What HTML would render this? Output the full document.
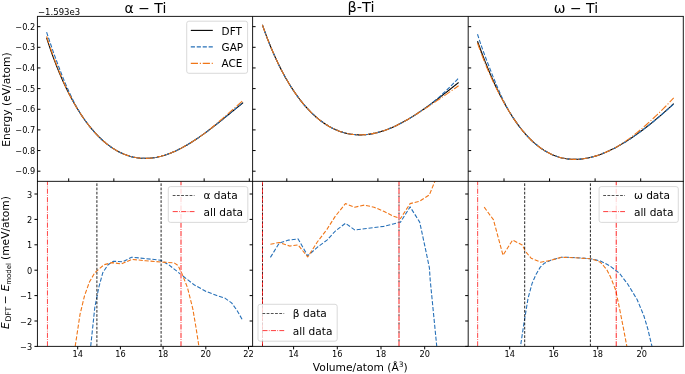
<!DOCTYPE html>
<html><head><meta charset="utf-8"><title>Ti EOS</title>
<style>html,body{margin:0;padding:0;background:#fff}svg{display:block}</style>
</head><body>
<svg width="685" height="374" viewBox="0 0 685 374" font-family='"DejaVu Sans","Liberation Sans",sans-serif'>
<rect width="685" height="374" fill="#fff"/>
<clipPath id="ct0"><rect x="37.45" y="16.4" width="215.1" height="164.9"/></clipPath>
<clipPath id="cb0"><rect x="37.45" y="181.35" width="215.1" height="165.0"/></clipPath>
<clipPath id="ct1"><rect x="252.6" y="16.4" width="215.6" height="164.9"/></clipPath>
<clipPath id="cb1"><rect x="252.6" y="181.35" width="215.6" height="165.0"/></clipPath>
<clipPath id="ct2"><rect x="468.2" y="16.4" width="215.1" height="164.9"/></clipPath>
<clipPath id="cb2"><rect x="468.2" y="181.35" width="215.1" height="165.0"/></clipPath>
<g clip-path="url(#ct0)" fill="none" stroke-width="1.1">
<path d="M46.60,37.75 L48.01,42.15 L49.43,46.40 L50.84,50.53 L52.25,54.52 L53.67,58.40 L55.08,62.16 L56.50,65.81 L57.91,69.35 L59.32,72.78 L60.74,76.11 L62.15,79.35 L63.56,82.49 L64.98,85.53 L66.39,88.49 L67.81,91.37 L69.22,94.16 L70.63,96.87 L72.05,99.50 L73.46,102.05 L74.87,104.53 L76.29,106.94 L77.70,109.28 L79.11,111.55 L80.53,113.75 L81.94,115.88 L83.36,117.95 L84.77,119.96 L86.18,121.90 L87.60,123.78 L89.01,125.61 L90.42,127.37 L91.84,129.08 L93.25,130.73 L94.66,132.33 L96.08,133.87 L97.49,135.36 L98.91,136.79 L100.32,138.18 L101.73,139.51 L103.15,140.79 L104.56,142.02 L105.97,143.20 L107.39,144.33 L108.80,145.42 L110.22,146.45 L111.63,147.44 L113.04,148.38 L114.46,149.28 L115.87,150.13 L117.28,150.94 L118.70,151.70 L120.11,152.42 L121.52,153.09 L122.94,153.73 L124.35,154.32 L125.77,154.86 L127.18,155.37 L128.59,155.83 L130.01,156.26 L131.42,156.64 L132.83,156.99 L134.25,157.29 L135.66,157.56 L137.07,157.79 L138.49,157.97 L139.90,158.13 L141.32,158.24 L142.73,158.32 L144.14,158.36 L145.56,158.37 L146.97,158.34 L148.38,158.28 L149.80,158.18 L151.21,158.05 L152.63,157.89 L154.04,157.69 L155.45,157.46 L156.87,157.20 L158.28,156.90 L159.69,156.58 L161.11,156.23 L162.52,155.84 L163.93,155.43 L165.35,154.99 L166.76,154.52 L168.18,154.02 L169.59,153.49 L171.00,152.94 L172.42,152.36 L173.83,151.76 L175.24,151.13 L176.66,150.47 L178.07,149.79 L179.48,149.09 L180.90,148.37 L182.31,147.62 L183.73,146.85 L185.14,146.06 L186.55,145.25 L187.97,144.42 L189.38,143.57 L190.79,142.70 L192.21,141.81 L193.62,140.90 L195.04,139.98 L196.45,139.04 L197.86,138.08 L199.28,137.11 L200.69,136.13 L202.10,135.13 L203.52,134.11 L204.93,133.08 L206.34,132.04 L207.76,130.99 L209.17,129.93 L210.59,128.86 L212.00,127.77 L213.41,126.68 L214.83,125.58 L216.24,124.47 L217.65,123.35 L219.07,122.23 L220.48,121.10 L221.89,119.96 L223.31,118.82 L224.72,117.68 L226.14,116.53 L227.55,115.37 L228.96,114.22 L230.38,113.06 L231.79,111.90 L233.20,110.74 L234.62,109.58 L236.03,108.43 L237.45,107.27 L238.86,106.11 L240.27,104.96 L241.69,103.80 L243.10,102.66" stroke="#000"/>
<path d="M46.60,32.15 L48.01,36.41 L49.43,40.61 L50.84,44.75 L52.25,48.87 L53.67,52.91 L55.08,56.84 L56.50,60.71 L57.91,64.51 L59.32,68.30 L60.74,72.04 L62.15,75.66 L63.56,79.16 L64.98,82.56 L66.39,85.87 L67.81,89.09 L69.22,92.23 L70.63,95.27 L72.05,98.20 L73.46,101.03 L74.87,103.77 L76.29,106.38 L77.70,108.91 L79.11,111.36 L80.53,113.69 L81.94,115.88 L83.36,117.95 L84.77,119.96 L86.18,121.90 L87.60,123.78 L89.01,125.61 L90.42,127.37 L91.84,129.08 L93.25,130.73 L94.66,132.33 L96.08,133.87 L97.49,135.36 L98.91,136.79 L100.32,138.18 L101.73,139.51 L103.15,140.79 L104.56,142.02 L105.97,143.20 L107.39,144.33 L108.80,145.42 L110.22,146.45 L111.63,147.44 L113.04,148.38 L114.46,149.28 L115.87,150.13 L117.28,150.94 L118.70,151.70 L120.11,152.42 L121.52,153.09 L122.94,153.73 L124.35,154.32 L125.77,154.86 L127.18,155.37 L128.59,155.83 L130.01,156.26 L131.42,156.64 L132.83,156.99 L134.25,157.29 L135.66,157.56 L137.07,157.79 L138.49,157.97 L139.90,158.13 L141.32,158.24 L142.73,158.32 L144.14,158.36 L145.56,158.37 L146.97,158.34 L148.38,158.28 L149.80,158.18 L151.21,158.05 L152.63,157.89 L154.04,157.69 L155.45,157.46 L156.87,157.20 L158.28,156.90 L159.69,156.58 L161.11,156.23 L162.52,155.84 L163.93,155.43 L165.35,154.99 L166.76,154.52 L168.18,154.02 L169.59,153.49 L171.00,152.94 L172.42,152.36 L173.83,151.76 L175.24,151.13 L176.66,150.47 L178.07,149.79 L179.48,149.09 L180.90,148.37 L182.31,147.62 L183.73,146.85 L185.14,146.06 L186.55,145.25 L187.97,144.42 L189.38,143.57 L190.79,142.70 L192.21,141.81 L193.62,140.90 L195.04,139.98 L196.45,139.04 L197.86,138.08 L199.28,137.11 L200.69,136.13 L202.10,135.12 L203.52,134.11 L204.93,133.08 L206.34,132.03 L207.76,130.97 L209.17,129.90 L210.59,128.82 L212.00,127.73 L213.41,126.62 L214.83,125.51 L216.24,124.39 L217.65,123.26 L219.07,122.12 L220.48,120.98 L221.89,119.83 L223.31,118.67 L224.72,117.51 L226.14,116.34 L227.55,115.17 L228.96,114.00 L230.38,112.82 L231.79,111.65 L233.20,110.47 L234.62,109.29 L236.03,108.12 L237.45,106.94 L238.86,105.77 L240.27,104.59 L241.69,103.43 L243.10,102.26" stroke="#2670b8" stroke-dasharray="4.15 1.8"/>
<path d="M46.60,36.45 L48.01,40.85 L49.43,45.11 L50.84,49.25 L52.25,53.27 L53.67,57.17 L55.08,60.96 L56.50,64.67 L57.91,68.30 L59.32,71.85 L60.74,75.31 L62.15,78.66 L63.56,81.93 L64.98,85.15 L66.39,88.27 L67.81,91.27 L69.22,94.15 L70.63,96.87 L72.05,99.50 L73.46,102.05 L74.87,104.53 L76.29,106.94 L77.70,109.28 L79.11,111.55 L80.53,113.75 L81.94,115.88 L83.36,117.95 L84.77,119.96 L86.18,121.90 L87.60,123.78 L89.01,125.61 L90.42,127.37 L91.84,129.08 L93.25,130.73 L94.66,132.33 L96.08,133.87 L97.49,135.36 L98.91,136.79 L100.32,138.18 L101.73,139.51 L103.15,140.79 L104.56,142.02 L105.97,143.20 L107.39,144.33 L108.80,145.42 L110.22,146.45 L111.63,147.44 L113.04,148.38 L114.46,149.28 L115.87,150.13 L117.28,150.94 L118.70,151.70 L120.11,152.42 L121.52,153.09 L122.94,153.73 L124.35,154.32 L125.77,154.86 L127.18,155.37 L128.59,155.83 L130.01,156.26 L131.42,156.64 L132.83,156.99 L134.25,157.29 L135.66,157.56 L137.07,157.79 L138.49,157.97 L139.90,158.13 L141.32,158.24 L142.73,158.32 L144.14,158.36 L145.56,158.37 L146.97,158.34 L148.38,158.28 L149.80,158.18 L151.21,158.05 L152.63,157.89 L154.04,157.69 L155.45,157.46 L156.87,157.20 L158.28,156.90 L159.69,156.58 L161.11,156.23 L162.52,155.84 L163.93,155.43 L165.35,154.99 L166.76,154.52 L168.18,154.02 L169.59,153.49 L171.00,152.94 L172.42,152.36 L173.83,151.76 L175.24,151.13 L176.66,150.47 L178.07,149.79 L179.48,149.09 L180.90,148.37 L182.31,147.62 L183.73,146.85 L185.14,146.06 L186.55,145.25 L187.97,144.42 L189.38,143.57 L190.79,142.70 L192.21,141.81 L193.62,140.90 L195.04,139.98 L196.45,139.04 L197.86,138.08 L199.28,137.11 L200.69,136.13 L202.10,135.13 L203.52,134.11 L204.93,133.08 L206.34,132.03 L207.76,130.93 L209.17,129.80 L210.59,128.64 L212.00,127.46 L213.41,126.28 L214.83,125.09 L216.24,123.90 L217.65,122.70 L219.07,121.49 L220.48,120.28 L221.89,119.05 L223.31,117.83 L224.72,116.59 L226.14,115.36 L227.55,114.12 L228.96,112.89 L230.38,111.65 L231.79,110.40 L233.20,109.16 L234.62,107.91 L236.03,106.66 L237.45,105.40 L238.86,104.15 L240.27,102.89 L241.69,101.64 L243.10,100.39" stroke="#f07618" stroke-dasharray="7.2 1.8 1.13 1.8"/>
</g>
<g clip-path="url(#ct1)" fill="none" stroke-width="1.1">
<path d="M262.40,24.91 L263.81,28.92 L265.22,32.80 L266.63,36.57 L268.05,40.23 L269.46,43.78 L270.87,47.23 L272.28,50.57 L273.69,53.82 L275.10,56.98 L276.52,60.04 L277.93,63.02 L279.34,65.91 L280.75,68.71 L282.16,71.44 L283.57,74.08 L284.98,76.65 L286.40,79.15 L287.81,81.57 L289.22,83.92 L290.63,86.20 L292.04,88.41 L293.45,90.56 L294.86,92.64 L296.28,94.66 L297.69,96.62 L299.10,98.52 L300.51,100.36 L301.92,102.14 L303.33,103.86 L304.75,105.53 L306.16,107.14 L307.57,108.70 L308.98,110.21 L310.39,111.66 L311.80,113.06 L313.21,114.41 L314.63,115.71 L316.04,116.97 L317.45,118.17 L318.86,119.33 L320.27,120.44 L321.68,121.50 L323.09,122.52 L324.51,123.50 L325.92,124.43 L327.33,125.31 L328.74,126.16 L330.15,126.96 L331.56,127.72 L332.98,128.43 L334.39,129.11 L335.80,129.75 L337.21,130.34 L338.62,130.90 L340.03,131.42 L341.44,131.90 L342.86,132.34 L344.27,132.74 L345.68,133.11 L347.09,133.44 L348.50,133.74 L349.91,134.00 L351.33,134.22 L352.74,134.41 L354.15,134.56 L355.56,134.69 L356.97,134.77 L358.38,134.83 L359.79,134.85 L361.21,134.84 L362.62,134.80 L364.03,134.73 L365.44,134.62 L366.85,134.49 L368.26,134.33 L369.67,134.13 L371.09,133.91 L372.50,133.66 L373.91,133.38 L375.32,133.08 L376.73,132.74 L378.14,132.38 L379.56,132.00 L380.97,131.59 L382.38,131.15 L383.79,130.68 L385.20,130.20 L386.61,129.69 L388.02,129.15 L389.44,128.59 L390.85,128.01 L392.26,127.41 L393.67,126.78 L395.08,126.14 L396.49,125.47 L397.91,124.78 L399.32,124.07 L400.73,123.35 L402.14,122.60 L403.55,121.84 L404.96,121.05 L406.37,120.25 L407.79,119.44 L409.20,118.60 L410.61,117.75 L412.02,116.88 L413.43,116.00 L414.84,115.10 L416.25,114.19 L417.67,113.27 L419.08,112.33 L420.49,111.38 L421.90,110.42 L423.31,109.44 L424.72,108.45 L426.14,107.45 L427.55,106.45 L428.96,105.43 L430.37,104.40 L431.78,103.36 L433.19,102.31 L434.60,101.26 L436.02,100.20 L437.43,99.13 L438.84,98.05 L440.25,96.97 L441.66,95.88 L443.07,94.78 L444.48,93.68 L445.90,92.58 L447.31,91.47 L448.72,90.36 L450.13,89.25 L451.54,88.13 L452.95,87.01 L454.37,85.89 L455.78,84.76 L457.19,83.64 L458.60,82.52" stroke="#000"/>
<path d="M262.40,24.91 L263.81,28.92 L265.22,32.80 L266.63,36.57 L268.05,40.23 L269.46,43.78 L270.87,47.23 L272.28,50.57 L273.69,53.82 L275.10,56.98 L276.52,60.04 L277.93,63.02 L279.34,65.91 L280.75,68.71 L282.16,71.44 L283.57,74.08 L284.98,76.65 L286.40,79.15 L287.81,81.57 L289.22,83.92 L290.63,86.20 L292.04,88.41 L293.45,90.56 L294.86,92.64 L296.28,94.66 L297.69,96.62 L299.10,98.52 L300.51,100.36 L301.92,102.14 L303.33,103.86 L304.75,105.53 L306.16,107.14 L307.57,108.70 L308.98,110.21 L310.39,111.66 L311.80,113.06 L313.21,114.41 L314.63,115.71 L316.04,116.97 L317.45,118.17 L318.86,119.33 L320.27,120.44 L321.68,121.50 L323.09,122.52 L324.51,123.50 L325.92,124.43 L327.33,125.31 L328.74,126.16 L330.15,126.96 L331.56,127.72 L332.98,128.43 L334.39,129.11 L335.80,129.75 L337.21,130.34 L338.62,130.90 L340.03,131.42 L341.44,131.90 L342.86,132.34 L344.27,132.74 L345.68,133.11 L347.09,133.44 L348.50,133.74 L349.91,134.00 L351.33,134.22 L352.74,134.41 L354.15,134.56 L355.56,134.69 L356.97,134.77 L358.38,134.83 L359.79,134.85 L361.21,134.84 L362.62,134.80 L364.03,134.73 L365.44,134.62 L366.85,134.49 L368.26,134.33 L369.67,134.13 L371.09,133.91 L372.50,133.66 L373.91,133.38 L375.32,133.08 L376.73,132.74 L378.14,132.38 L379.56,132.00 L380.97,131.59 L382.38,131.15 L383.79,130.68 L385.20,130.20 L386.61,129.69 L388.02,129.15 L389.44,128.59 L390.85,128.01 L392.26,127.41 L393.67,126.78 L395.08,126.14 L396.49,125.47 L397.91,124.78 L399.32,124.07 L400.73,123.35 L402.14,122.60 L403.55,121.84 L404.96,121.05 L406.37,120.25 L407.79,119.44 L409.20,118.60 L410.61,117.75 L412.02,116.88 L413.43,116.00 L414.84,115.10 L416.25,114.19 L417.67,113.27 L419.08,112.33 L420.49,111.38 L421.90,110.42 L423.31,109.44 L424.72,108.45 L426.14,107.45 L427.55,106.45 L428.96,105.43 L430.37,104.40 L431.78,103.31 L433.19,102.17 L434.60,100.99 L436.02,99.79 L437.43,98.59 L438.84,97.36 L440.25,96.10 L441.66,94.82 L443.07,93.52 L444.48,92.21 L445.90,90.87 L447.31,89.50 L448.72,88.12 L450.13,86.72 L451.54,85.32 L452.95,83.90 L454.37,82.48 L455.78,81.04 L457.19,79.60 L458.60,78.14" stroke="#2670b8" stroke-dasharray="4.15 1.8"/>
<path d="M262.40,24.91 L263.81,28.92 L265.22,32.80 L266.63,36.57 L268.05,40.23 L269.46,43.78 L270.87,47.23 L272.28,50.57 L273.69,53.82 L275.10,56.98 L276.52,60.04 L277.93,63.02 L279.34,65.91 L280.75,68.71 L282.16,71.44 L283.57,74.08 L284.98,76.65 L286.40,79.15 L287.81,81.57 L289.22,83.92 L290.63,86.20 L292.04,88.41 L293.45,90.56 L294.86,92.64 L296.28,94.66 L297.69,96.62 L299.10,98.52 L300.51,100.36 L301.92,102.14 L303.33,103.86 L304.75,105.53 L306.16,107.14 L307.57,108.70 L308.98,110.21 L310.39,111.66 L311.80,113.06 L313.21,114.41 L314.63,115.71 L316.04,116.97 L317.45,118.17 L318.86,119.33 L320.27,120.44 L321.68,121.50 L323.09,122.52 L324.51,123.50 L325.92,124.43 L327.33,125.31 L328.74,126.16 L330.15,126.96 L331.56,127.72 L332.98,128.43 L334.39,129.11 L335.80,129.75 L337.21,130.34 L338.62,130.90 L340.03,131.42 L341.44,131.90 L342.86,132.34 L344.27,132.74 L345.68,133.11 L347.09,133.44 L348.50,133.74 L349.91,134.00 L351.33,134.22 L352.74,134.41 L354.15,134.56 L355.56,134.69 L356.97,134.77 L358.38,134.83 L359.79,134.85 L361.21,134.84 L362.62,134.80 L364.03,134.73 L365.44,134.62 L366.85,134.49 L368.26,134.33 L369.67,134.13 L371.09,133.91 L372.50,133.66 L373.91,133.38 L375.32,133.08 L376.73,132.74 L378.14,132.38 L379.56,132.00 L380.97,131.59 L382.38,131.15 L383.79,130.68 L385.20,130.20 L386.61,129.69 L388.02,129.15 L389.44,128.59 L390.85,128.01 L392.26,127.41 L393.67,126.78 L395.08,126.14 L396.49,125.47 L397.91,124.78 L399.32,124.07 L400.73,123.35 L402.14,122.60 L403.55,121.84 L404.96,121.05 L406.37,120.25 L407.79,119.44 L409.20,118.60 L410.61,117.75 L412.02,116.88 L413.43,116.00 L414.84,115.10 L416.25,114.20 L417.67,113.30 L419.08,112.41 L420.49,111.52 L421.90,110.62 L423.31,109.72 L424.72,108.82 L426.14,107.91 L427.55,106.99 L428.96,106.06 L430.37,105.12 L431.78,104.18 L433.19,103.24 L434.60,102.29 L436.02,101.35 L437.43,100.40 L438.84,99.45 L440.25,98.49 L441.66,97.52 L443.07,96.55 L444.48,95.58 L445.90,94.60 L447.31,93.62 L448.72,92.64 L450.13,91.66 L451.54,90.67 L452.95,89.68 L454.37,88.69 L455.78,87.69 L457.19,86.70 L458.60,85.71" stroke="#f07618" stroke-dasharray="7.2 1.8 1.13 1.8"/>
</g>
<g clip-path="url(#ct2)" fill="none" stroke-width="1.1">
<path d="M477.50,41.22 L478.91,45.15 L480.32,49.00 L481.73,52.78 L483.15,56.49 L484.56,60.12 L485.97,63.67 L487.38,67.15 L488.79,70.55 L490.20,73.88 L491.62,77.13 L493.03,80.31 L494.44,83.41 L495.85,86.44 L497.26,89.40 L498.67,92.28 L500.08,95.09 L501.50,97.83 L502.91,100.50 L504.32,103.10 L505.73,105.63 L507.14,108.09 L508.55,110.48 L509.96,112.80 L511.38,115.06 L512.79,117.25 L514.20,119.37 L515.61,121.43 L517.02,123.43 L518.43,125.36 L519.85,127.23 L521.26,129.03 L522.67,130.78 L524.08,132.46 L525.49,134.09 L526.90,135.65 L528.31,137.16 L529.73,138.61 L531.14,140.01 L532.55,141.34 L533.96,142.63 L535.37,143.86 L536.78,145.03 L538.19,146.16 L539.61,147.23 L541.02,148.25 L542.43,149.22 L543.84,150.14 L545.25,151.01 L546.66,151.83 L548.08,152.61 L549.49,153.34 L550.90,154.03 L552.31,154.67 L553.72,155.26 L555.13,155.81 L556.54,156.32 L557.96,156.79 L559.37,157.22 L560.78,157.60 L562.19,157.95 L563.60,158.25 L565.01,158.52 L566.43,158.75 L567.84,158.94 L569.25,159.09 L570.66,159.21 L572.07,159.30 L573.48,159.35 L574.89,159.36 L576.31,159.34 L577.72,159.29 L579.13,159.21 L580.54,159.09 L581.95,158.94 L583.36,158.77 L584.77,158.56 L586.19,158.32 L587.60,158.06 L589.01,157.76 L590.42,157.44 L591.83,157.09 L593.24,156.71 L594.66,156.31 L596.07,155.88 L597.48,155.43 L598.89,154.95 L600.30,154.44 L601.71,153.91 L603.12,153.36 L604.54,152.79 L605.95,152.19 L607.36,151.57 L608.77,150.93 L610.18,150.27 L611.59,149.58 L613.01,148.88 L614.42,148.16 L615.83,147.41 L617.24,146.65 L618.65,145.86 L620.06,145.06 L621.47,144.24 L622.89,143.40 L624.30,142.55 L625.71,141.68 L627.12,140.79 L628.53,139.88 L629.94,138.96 L631.35,138.02 L632.77,137.06 L634.18,136.09 L635.59,135.11 L637.00,134.11 L638.41,133.09 L639.82,132.07 L641.24,131.02 L642.65,129.97 L644.06,128.90 L645.47,127.81 L646.88,126.72 L648.29,125.61 L649.70,124.49 L651.12,123.35 L652.53,122.21 L653.94,121.05 L655.35,119.88 L656.76,118.70 L658.17,117.51 L659.58,116.31 L661.00,115.09 L662.41,113.87 L663.82,112.64 L665.23,111.39 L666.64,110.14 L668.05,108.87 L669.47,107.60 L670.88,106.32 L672.29,105.02 L673.70,103.72" stroke="#000"/>
<path d="M477.50,34.22 L478.91,38.60 L480.32,42.85 L481.73,46.94 L483.15,50.89 L484.56,54.75 L485.97,58.51 L487.38,62.19 L488.79,65.81 L490.20,69.43 L491.62,73.03 L493.03,76.58 L494.44,80.06 L495.85,83.47 L497.26,86.82 L498.67,90.07 L500.08,93.26 L501.50,96.38 L502.91,99.40 L504.32,102.29 L505.73,105.03 L507.14,107.69 L508.55,110.26 L509.96,112.72 L511.38,115.05 L512.79,117.25 L514.20,119.37 L515.61,121.43 L517.02,123.43 L518.43,125.36 L519.85,127.23 L521.26,129.03 L522.67,130.78 L524.08,132.46 L525.49,134.09 L526.90,135.65 L528.31,137.16 L529.73,138.61 L531.14,140.01 L532.55,141.34 L533.96,142.63 L535.37,143.86 L536.78,145.03 L538.19,146.16 L539.61,147.23 L541.02,148.25 L542.43,149.22 L543.84,150.14 L545.25,151.01 L546.66,151.83 L548.08,152.61 L549.49,153.34 L550.90,154.03 L552.31,154.67 L553.72,155.26 L555.13,155.81 L556.54,156.32 L557.96,156.79 L559.37,157.22 L560.78,157.60 L562.19,157.95 L563.60,158.25 L565.01,158.52 L566.43,158.75 L567.84,158.94 L569.25,159.09 L570.66,159.21 L572.07,159.30 L573.48,159.35 L574.89,159.36 L576.31,159.34 L577.72,159.29 L579.13,159.21 L580.54,159.09 L581.95,158.94 L583.36,158.77 L584.77,158.56 L586.19,158.32 L587.60,158.06 L589.01,157.76 L590.42,157.44 L591.83,157.09 L593.24,156.71 L594.66,156.31 L596.07,155.88 L597.48,155.43 L598.89,154.95 L600.30,154.44 L601.71,153.91 L603.12,153.36 L604.54,152.79 L605.95,152.19 L607.36,151.57 L608.77,150.93 L610.18,150.27 L611.59,149.58 L613.01,148.88 L614.42,148.16 L615.83,147.41 L617.24,146.65 L618.65,145.86 L620.06,145.06 L621.47,144.24 L622.89,143.40 L624.30,142.55 L625.71,141.68 L627.12,140.79 L628.53,139.88 L629.94,138.96 L631.35,138.02 L632.77,137.06 L634.18,136.09 L635.59,135.11 L637.00,134.11 L638.41,133.09 L639.82,132.07 L641.24,131.02 L642.65,129.97 L644.06,128.90 L645.47,127.83 L646.88,126.74 L648.29,125.64 L649.70,124.53 L651.12,123.40 L652.53,122.27 L653.94,121.12 L655.35,119.97 L656.76,118.80 L658.17,117.63 L659.58,116.44 L661.00,115.24 L662.41,114.04 L663.82,112.82 L665.23,111.59 L666.64,110.35 L668.05,109.11 L669.47,107.85 L670.88,106.58 L672.29,105.31 L673.70,104.02" stroke="#2670b8" stroke-dasharray="4.15 1.8"/>
<path d="M477.50,43.02 L478.91,46.95 L480.32,50.80 L481.73,54.58 L483.15,58.29 L484.56,61.92 L485.97,65.45 L487.38,68.84 L488.79,72.10 L490.20,75.27 L491.62,78.37 L493.03,81.40 L494.44,84.33 L495.85,87.18 L497.26,89.96 L498.67,92.69 L500.08,95.39 L501.50,98.03 L502.91,100.61 L504.32,103.14 L505.73,105.63 L507.14,108.09 L508.55,110.48 L509.96,112.80 L511.38,115.06 L512.79,117.25 L514.20,119.37 L515.61,121.43 L517.02,123.43 L518.43,125.36 L519.85,127.23 L521.26,129.03 L522.67,130.78 L524.08,132.46 L525.49,134.09 L526.90,135.65 L528.31,137.16 L529.73,138.61 L531.14,140.01 L532.55,141.34 L533.96,142.63 L535.37,143.86 L536.78,145.03 L538.19,146.16 L539.61,147.23 L541.02,148.25 L542.43,149.22 L543.84,150.14 L545.25,151.01 L546.66,151.83 L548.08,152.61 L549.49,153.34 L550.90,154.03 L552.31,154.67 L553.72,155.26 L555.13,155.81 L556.54,156.32 L557.96,156.79 L559.37,157.22 L560.78,157.60 L562.19,157.95 L563.60,158.25 L565.01,158.52 L566.43,158.75 L567.84,158.94 L569.25,159.09 L570.66,159.21 L572.07,159.30 L573.48,159.35 L574.89,159.36 L576.31,159.34 L577.72,159.29 L579.13,159.21 L580.54,159.09 L581.95,158.94 L583.36,158.77 L584.77,158.56 L586.19,158.32 L587.60,158.06 L589.01,157.76 L590.42,157.44 L591.83,157.09 L593.24,156.71 L594.66,156.31 L596.07,155.88 L597.48,155.43 L598.89,154.95 L600.30,154.44 L601.71,153.91 L603.12,153.36 L604.54,152.79 L605.95,152.19 L607.36,151.57 L608.77,150.93 L610.18,150.27 L611.59,149.58 L613.01,148.88 L614.42,148.16 L615.83,147.40 L617.24,146.61 L618.65,145.77 L620.06,144.89 L621.47,143.98 L622.89,143.04 L624.30,142.09 L625.71,141.13 L627.12,140.14 L628.53,139.13 L629.94,138.09 L631.35,137.03 L632.77,135.95 L634.18,134.85 L635.59,133.73 L637.00,132.60 L638.41,131.45 L639.82,130.28 L641.24,129.10 L642.65,127.91 L644.06,126.69 L645.47,125.47 L646.88,124.22 L648.29,122.96 L649.70,121.68 L651.12,120.39 L652.53,119.09 L653.94,117.77 L655.35,116.44 L656.76,115.10 L658.17,113.74 L659.58,112.37 L661.00,110.98 L662.41,109.58 L663.82,108.17 L665.23,106.75 L666.64,105.32 L668.05,103.87 L669.47,102.41 L670.88,100.94 L672.29,99.46 L673.70,97.96" stroke="#f07618" stroke-dasharray="7.2 1.8 1.13 1.8"/>
</g>
<g clip-path="url(#cb0)" fill="none">
<path d="M90.70,346.30 L94.80,307.50 L98.80,287.40 L102.80,272.70 L108.10,264.70 L113.50,261.20 L122.80,261.80 L131.70,257.20 L145.60,258.60 L160.70,260.20 L168.70,264.70 L182.10,275.40 L194.10,284.80 L206.10,291.40 L216.80,295.50 L224.90,298.10 L231.60,302.90 L236.90,310.20 L242.20,319.50" stroke="#2670b8" stroke-width="1.1" stroke-dasharray="4.15 1.8" stroke-linejoin="round"/>
<path d="M75.20,346.30 L80.05,314.20 L84.60,295.50 L89.40,282.10 L94.80,272.70 L104.10,264.70 L112.10,262.60 L121.50,263.90 L131.70,259.40 L145.60,260.70 L160.70,262.00 L174.10,262.80 L178.10,265.50 L182.10,274.10 L187.40,287.40 L192.80,308.80 L196.00,327.50 L198.70,345.00 L199.30,350.00" stroke="#f07618" stroke-width="1.1" stroke-dasharray="4.15 1.8" stroke-linejoin="round"/>
<path d="M96.9,346.4 V181.35" stroke="#000" stroke-opacity="0.85" stroke-width="1.0" stroke-dasharray="2.7 1.52"/>
<path d="M161.1,346.4 V181.35" stroke="#000" stroke-opacity="0.85" stroke-width="1.0" stroke-dasharray="2.7 1.52"/>
<path d="M47.45,346.4 V181.35" stroke="#ff0000" stroke-opacity="0.72" stroke-width="1.0" stroke-dasharray="5.12 1.28 0.8 1.28"/>
<path d="M181.0,346.4 V181.35" stroke="#ff8c8c" stroke-width="1.9" stroke-dasharray="5.12 1.28 0.8 1.28"/>
</g>
<g clip-path="url(#cb1)" fill="none">
<path d="M270.40,257.40 L279.30,243.00 L288.50,240.10 L298.10,238.90 L307.70,255.80 L317.30,247.30 L327.00,240.10 L335.40,231.00 L345.50,223.30 L354.70,229.90 L364.40,228.80 L374.05,227.60 L383.70,226.40 L393.30,224.00 L400.50,222.10 L410.10,206.90 L419.70,222.10 L424.60,244.90 L429.40,267.80 L430.20,280.00 L436.70,345.80 L437.20,350.00" stroke="#2670b8" stroke-width="1.1" stroke-dasharray="4.15 1.8" stroke-linejoin="round"/>
<path d="M270.40,244.20 L279.30,242.50 L289.70,246.10 L298.10,244.90 L307.70,257.00 L317.30,242.00 L327.00,229.30 L335.40,216.10 L345.50,203.60 L354.70,207.20 L364.40,205.10 L374.05,207.20 L383.70,211.30 L393.30,216.10 L400.50,218.50 L410.10,203.60 L419.70,201.20 L429.40,194.90 L435.40,180.00 L436.00,178.00" stroke="#f07618" stroke-width="1.1" stroke-dasharray="4.15 1.8" stroke-linejoin="round"/>
<path d="M262.5,346.4 V181.35" stroke="#000" stroke-opacity="0.85" stroke-width="1.0" stroke-dasharray="2.7 1.52"/>
<path d="M399.0,346.4 V181.35" stroke="#000" stroke-opacity="0.85" stroke-width="1.0" stroke-dasharray="2.7 1.52"/>
<path d="M262.5,346.4 V181.35" stroke="#ff0000" stroke-opacity="0.72" stroke-width="1.0" stroke-dasharray="5.12 1.28 0.8 1.28"/>
<path d="M399.0,346.4 V181.35" stroke="#ff8c8c" stroke-width="1.9" stroke-dasharray="5.12 1.28 0.8 1.28"/>
</g>
<g clip-path="url(#cb2)" fill="none">
<path d="M519.90,350.00 L520.60,345.70 L524.10,322.20 L528.10,298.10 L532.10,283.40 L536.00,274.50 L540.10,267.40 L544.40,263.20 L550.80,260.20 L561.50,257.20 L573.20,257.50 L585.00,258.30 L590.90,258.80 L595.70,259.90 L600.30,260.90 L606.40,263.90 L609.60,265.70 L617.10,271.40 L620.00,274.00 L627.80,284.20 L637.10,299.50 L643.80,315.50 L647.80,328.90 L651.80,345.70 L652.80,350.00" stroke="#2670b8" stroke-width="1.1" stroke-dasharray="4.15 1.8" stroke-linejoin="round"/>
<path d="M484.20,207.20 L493.40,219.70 L503.00,255.30 L512.60,240.10 L522.20,244.90 L525.40,251.30 L531.10,258.20 L540.50,262.20 L550.60,260.40 L561.40,257.30 L573.20,257.70 L585.00,258.40 L590.90,258.80 L595.70,260.20 L600.30,262.20 L603.70,266.00 L606.95,270.05 L610.40,276.70 L613.60,284.80 L615.70,290.10 L619.80,309.80 L623.80,330.20 L626.70,345.70 L627.50,350.00" stroke="#f07618" stroke-width="1.1" stroke-dasharray="4.15 1.8" stroke-linejoin="round"/>
<path d="M524.7,346.4 V181.35" stroke="#000" stroke-opacity="0.85" stroke-width="1.0" stroke-dasharray="2.7 1.52"/>
<path d="M590.4,346.4 V181.35" stroke="#000" stroke-opacity="0.85" stroke-width="1.0" stroke-dasharray="2.7 1.52"/>
<path d="M477.65,346.4 V181.35" stroke="#ff0000" stroke-opacity="0.72" stroke-width="1.0" stroke-dasharray="5.12 1.28 0.8 1.28"/>
<path d="M616.3,346.4 V181.35" stroke="#ff0000" stroke-opacity="0.62" stroke-width="1.35" stroke-dasharray="5.12 1.28 0.8 1.28"/>
</g>
<path d="M37.45,26.65 h3.0 M37.45,47.30 h3.0 M37.45,67.95 h3.0 M37.45,88.60 h3.0 M37.45,109.25 h3.0 M37.45,129.90 h3.0 M37.45,150.55 h3.0 M37.45,171.20 h3.0 M37.45,194.00 h-3.0 M37.45,219.40 h-3.0 M37.45,244.80 h-3.0 M37.45,270.20 h-3.0 M37.45,295.60 h-3.0 M37.45,321.00 h-3.0 M37.45,346.40 h-3.0 M252.6,26.65 h3.0 M252.6,47.30 h3.0 M252.6,67.95 h3.0 M252.6,88.60 h3.0 M252.6,109.25 h3.0 M252.6,129.90 h3.0 M252.6,150.55 h3.0 M252.6,171.20 h3.0 M252.6,194.00 h-3.0 M252.6,219.40 h-3.0 M252.6,244.80 h-3.0 M252.6,270.20 h-3.0 M252.6,295.60 h-3.0 M252.6,321.00 h-3.0 M252.6,346.40 h-3.0 M468.2,26.65 h3.0 M468.2,47.30 h3.0 M468.2,67.95 h3.0 M468.2,88.60 h3.0 M468.2,109.25 h3.0 M468.2,129.90 h3.0 M468.2,150.55 h3.0 M468.2,171.20 h3.0 M468.2,194.00 h-3.0 M468.2,219.40 h-3.0 M468.2,244.80 h-3.0 M468.2,270.20 h-3.0 M468.2,295.60 h-3.0 M468.2,321.00 h-3.0 M468.2,346.40 h-3.0 M68.70,181.35 v-3.0 M113.85,181.35 v-3.0 M159.00,181.35 v-3.0 M204.15,181.35 v-3.0 M249.30,181.35 v-3.0 M286.80,181.35 v-3.0 M332.35,181.35 v-3.0 M377.90,181.35 v-3.0 M423.45,181.35 v-3.0 M504.00,181.35 v-3.0 M549.55,181.35 v-3.0 M595.10,181.35 v-3.0 M640.70,181.35 v-3.0 M77.70,346.4 v3.0 M120.40,346.4 v3.0 M163.10,346.4 v3.0 M205.80,346.4 v3.0 M248.50,346.4 v3.0 M293.60,346.4 v3.0 M337.30,346.4 v3.0 M381.00,346.4 v3.0 M424.70,346.4 v3.0 M509.70,346.4 v3.0 M553.60,346.4 v3.0 M597.70,346.4 v3.0 M641.80,346.4 v3.0" stroke="#000" stroke-width="1.0" fill="none"/>
<path d="M37.45,16.4 V346.4 M252.6,16.4 V346.4 M468.2,16.4 V346.4 M683.3,16.4 V346.4 M37.0,16.4 H683.75 M37.0,181.35 H683.75 M37.0,346.4 H683.75" stroke="#000" stroke-width="0.9" fill="none"/>
<g font-size="8.2" fill="#000">
<g text-anchor="end">
<text x="35.2" y="29.75">−0.2</text>
<text x="35.2" y="50.40">−0.3</text>
<text x="35.2" y="71.05">−0.4</text>
<text x="35.2" y="91.70">−0.5</text>
<text x="35.2" y="112.35">−0.6</text>
<text x="35.2" y="133.00">−0.7</text>
<text x="35.2" y="153.65">−0.8</text>
<text x="35.2" y="174.30">−0.9</text>
<text x="32.1" y="197.50">3</text>
<text x="32.1" y="222.90">2</text>
<text x="32.1" y="248.30">1</text>
<text x="32.1" y="273.70">0</text>
<text x="32.1" y="299.10">−1</text>
<text x="32.1" y="324.50">−2</text>
<text x="32.1" y="349.90">−3</text>
</g>
<g text-anchor="middle">
<text x="77.7" y="357.2">14</text>
<text x="120.4" y="357.2">16</text>
<text x="163.1" y="357.2">18</text>
<text x="205.8" y="357.2">20</text>
<text x="248.5" y="357.2">22</text>
<text x="293.6" y="357.2">14</text>
<text x="337.3" y="357.2">16</text>
<text x="381.0" y="357.2">18</text>
<text x="424.7" y="357.2">20</text>
<text x="509.7" y="357.2">14</text>
<text x="553.6" y="357.2">16</text>
<text x="597.7" y="357.2">18</text>
<text x="641.8" y="357.2">20</text>
</g>
<text x="38.0" y="14.9" font-size="8.5">−1.593e3</text>
</g>
<g text-anchor="middle" fill="#000">
<text x="145.4" y="12.7" font-size="14" xml:space="preserve">α − Ti</text>
<text x="361.0" y="12.2" font-size="14.6">β-Ti</text>
<text x="575.9" y="12.7" font-size="14" xml:space="preserve">ω − Ti</text>
</g>
<text x="360.3" y="371" font-size="10.7" text-anchor="middle">Volume/atom (Å<tspan font-size="7.5" dy="-4.2">3</tspan><tspan dy="4.2">)</tspan></text>
<text transform="translate(10.3,99.6) rotate(-90)" font-size="10.7" text-anchor="middle">Energy (eV/atom)</text>
<g transform="translate(9.2,0) rotate(-90)" font-size="10.7">
<text x="-329.0" y="0" font-style="italic">E</text>
<text x="-321.6" y="1.7" font-size="7.7">DFT</text>
<text x="-304.2" y="0" >−</text>
<text x="-291.2" y="0" font-style="italic">E</text>
<text x="-284.8" y="1.7" font-size="7.0">model</text>
<text x="-260.0" y="0" >(meV/atom)</text>
</g>
<rect x="186.7" y="21.2" width="60.9" height="52.1" rx="2.2" fill="#fff" fill-opacity="0.8" stroke="#ccc" stroke-opacity="0.8" stroke-width="0.9"/>
<path d="M190.8,30.4 H212.8" fill="none" stroke="#000" stroke-width="1.1"/>
<text x="221.6" y="34.5" font-size="10.45">DFT</text>
<path d="M190.8,46.9 H212.8" fill="none" stroke="#2670b8" stroke-width="1.1" stroke-dasharray="4.15 1.8"/>
<text x="221.6" y="50.5" font-size="10.45">GAP</text>
<path d="M190.8,63.35 H212.8" fill="none" stroke="#f07618" stroke-width="1.1" stroke-dasharray="7.2 1.8 1.13 1.8"/>
<text x="221.6" y="67.0" font-size="10.45">ACE</text>
<rect x="168.3" y="186.6" width="79.5" height="35.8" rx="2.2" fill="#fff" fill-opacity="0.8" stroke="#ccc" stroke-opacity="0.8" stroke-width="0.9"/>
<path d="M172.7,195.5 H194.5" fill="none" stroke="#000" stroke-opacity="0.8" stroke-width="0.85" stroke-dasharray="2.8 1.42"/>
<text x="203.5" y="199.4" font-size="10.6">α data</text>
<path d="M172.7,211.6 H194.5" fill="none" stroke="#ff0000" stroke-opacity="0.85" stroke-width="0.9" stroke-dasharray="5.12 1.28 0.8 1.28"/>
<text x="203.5" y="215.5" font-size="10.6">all data</text>
<rect x="258.0" y="304.3" width="79.2" height="36.9" rx="2.2" fill="#fff" fill-opacity="0.8" stroke="#ccc" stroke-opacity="0.8" stroke-width="0.9"/>
<path d="M262.4,313.5 H284.2" fill="none" stroke="#000" stroke-opacity="0.8" stroke-width="0.85" stroke-dasharray="2.8 1.42"/>
<text x="292.8" y="317.4" font-size="10.6">β data</text>
<path d="M262.4,330.6 H284.2" fill="none" stroke="#ff0000" stroke-opacity="0.85" stroke-width="0.9" stroke-dasharray="5.12 1.28 0.8 1.28"/>
<text x="292.8" y="334.5" font-size="10.6">all data</text>
<rect x="599.1" y="186.6" width="79.2" height="35.8" rx="2.2" fill="#fff" fill-opacity="0.8" stroke="#ccc" stroke-opacity="0.8" stroke-width="0.9"/>
<path d="M603.2,195.5 H625.0" fill="none" stroke="#000" stroke-opacity="0.8" stroke-width="0.85" stroke-dasharray="2.8 1.42"/>
<text x="633.9" y="199.4" font-size="10.6">ω data</text>
<path d="M603.2,211.6 H625.0" fill="none" stroke="#ff0000" stroke-opacity="0.85" stroke-width="0.9" stroke-dasharray="5.12 1.28 0.8 1.28"/>
<text x="633.9" y="215.5" font-size="10.6">all data</text>
</svg>
</body></html>
